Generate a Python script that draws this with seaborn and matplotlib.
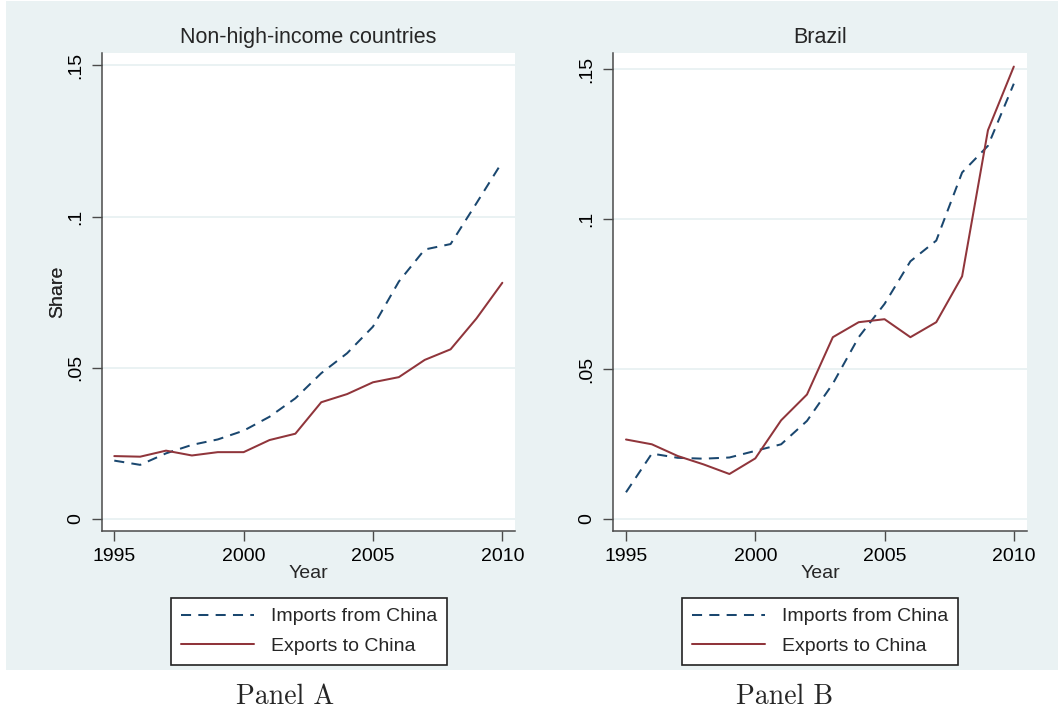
import numpy as np
import pandas as pd
import matplotlib
matplotlib.use("Agg")
import matplotlib.pyplot as plt
from matplotlib.patches import Rectangle
import seaborn as sns

# Trade shares with China, 1995-2010
years = list(range(1995, 2011))

nonhigh_imports = [0.0193, 0.0179, 0.0217, 0.0245, 0.0263, 0.0292, 0.0338, 0.0399,
                   0.0482, 0.0548, 0.0636, 0.0785, 0.0891, 0.0909, 0.1044, 0.1181]
nonhigh_exports = [0.0208, 0.0206, 0.0226, 0.0210, 0.0221, 0.0221, 0.0261, 0.0282,
                   0.0386, 0.0413, 0.0452, 0.0469, 0.0526, 0.0561, 0.0663, 0.0781]

brazil_imports = [0.0089, 0.0218, 0.0204, 0.0201, 0.0205, 0.0227, 0.0249, 0.0327,
                  0.0451, 0.0606, 0.0717, 0.0859, 0.0928, 0.1155, 0.1244, 0.1451]
brazil_exports = [0.0265, 0.0249, 0.0210, 0.0182, 0.0150, 0.0202, 0.0329, 0.0415,
                  0.0606, 0.0656, 0.0666, 0.0606, 0.0656, 0.0809, 0.1296, 0.1508]

series_names = ["Imports from China", "Exports to China"]
panel_titles = ["Non-high-income countries", "Brazil"]
panel_labels = ["Panel A", "Panel B"]
ytick_vals = [0, 0.05, 0.10, 0.15]
ytick_text = ["0", ".05", ".1", ".15"]
xtick_vals = [1995, 2000, 2005, 2010]

sns.set_theme(style="ticks")
plt.rcParams["font.family"] = ["Liberation Sans", "DejaVu Sans"]

NAVY = "#1a476f"
MAROON = "#90353b"
BG = "#eaf2f3"
SPINE = "#4a4a4a"

palette = {series_names[0]: NAVY, series_names[1]: MAROON}
dashes = {series_names[0]: (5, 3.6), series_names[1]: ""}


def long_frame(imp, exp):
    return pd.DataFrame({
        "Year": years * 2,
        "Share": imp + exp,
        "Series": [series_names[0]] * len(years) + [series_names[1]] * len(years),
    })


W, H = 1058, 713
fig = plt.figure(figsize=(W / 100, H / 100), dpi=100, facecolor="white")
fig.patches.append(Rectangle((6 / W, 43 / H), 1 - 6 / W, 669 / H,
                             transform=fig.transFigure, facecolor=BG,
                             edgecolor="none", zorder=-10))

panels = [
    dict(data=long_frame(nonhigh_imports, nonhigh_exports), left=102, right=515,
         xlim=(1994.525, 2010.49), ylim=(-0.00397, 0.15417), legend_cx=309,
         label_cx=285),
    dict(data=long_frame(brazil_imports, brazil_exports), left=613, right=1027,
         xlim=(1994.497, 2010.51), ylim=(-0.0040, 0.15543), legend_cx=820,
         label_cx=785),
]

top_px, bot_px = 52.7, 531
for i, p in enumerate(panels):
    ax = fig.add_axes([p["left"] / W, 1 - bot_px / H,
                       (p["right"] - p["left"]) / W, (bot_px - top_px) / H])
    ax.set_facecolor("white")
    sns.lineplot(data=p["data"], x="Year", y="Share", hue="Series", style="Series",
                 hue_order=series_names, style_order=series_names,
                 palette=palette, dashes=dashes, linewidth=1.45, ax=ax)
    ax.set_xlim(*p["xlim"])
    ax.set_ylim(*p["ylim"])

    for v in ytick_vals:
        ax.axhline(v, color=BG, linewidth=1.4, zorder=0)

    ax.set_yticks(ytick_vals)
    ax.set_yticklabels(ytick_text, rotation=90, va="center")
    ax.set_xticks(xtick_vals)
    ax.tick_params(axis="both", labelsize=14, colors="black", direction="out",
                   length=7, width=1.0, color=SPINE)
    ax.tick_params(axis="x", pad=5)
    ax.tick_params(axis="y", pad=6)

    for side in ["top", "right"]:
        ax.spines[side].set_visible(False)
    for side in ["left", "bottom"]:
        ax.spines[side].set_color(SPINE)
        ax.spines[side].set_linewidth(1.1)

    width_px = p["right"] - p["left"]
    ax.set_ylabel("Share", fontsize=14)
    ax.yaxis.set_label_coords((58 - p["left"]) / width_px, 0.5)
    ax.set_xlabel("Year", fontsize=14)
    ax.xaxis.set_label_coords(0.5, (bot_px - 573) / (bot_px - top_px))
    ax.xaxis.label.set_va("center")
    ax.yaxis.label.set_va("center")

    ax.set_title(panel_titles[i], fontsize=15.5, pad=7)

    handles, labels = ax.get_legend_handles_labels()
    ax.legend_.remove()
    leg = ax.legend(handles, labels, loc="center",
                    bbox_to_anchor=(p["legend_cx"] / W, 1 - 631.5 / H),
                    bbox_transform=fig.transFigure, fontsize=14, frameon=True,
                    fancybox=False, edgecolor="#222222", facecolor="white",
                    framealpha=1, handlelength=3.75, handletextpad=0.9,
                    borderpad=0.5, labelspacing=0.62, borderaxespad=0)
    leg.get_frame().set_linewidth(1.2)
    for line in leg.get_lines():
        line.set_linewidth(1.45)

    fig.text(p["label_cx"] / W, 1 - 697 / H, panel_labels[i], ha="center",
             va="center", fontsize=20, family=["cmr10", "DejaVu Serif"])

fig.savefig("out.png", dpi=100, facecolor="white")
